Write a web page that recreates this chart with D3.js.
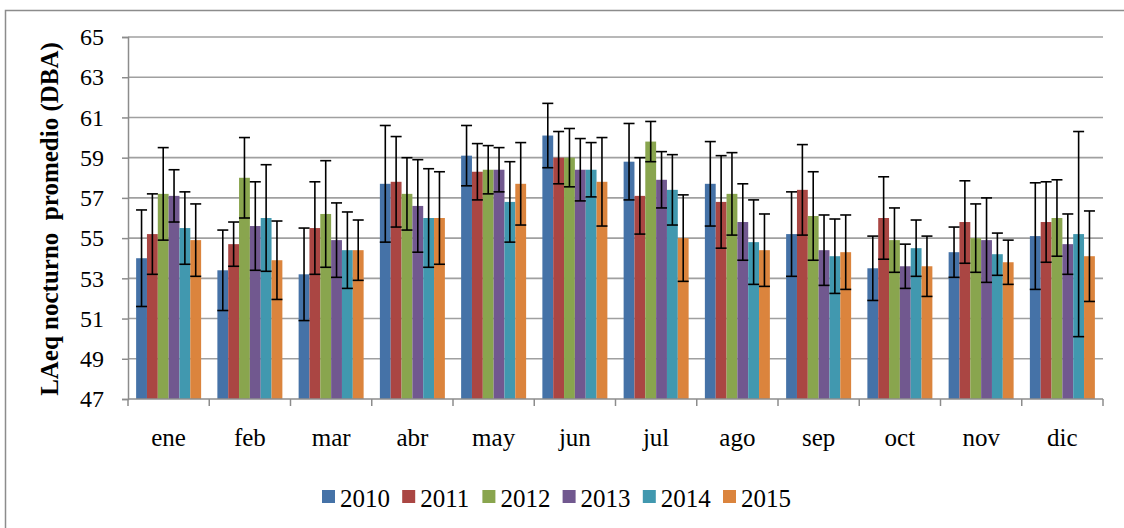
<!DOCTYPE html>
<html>
<head>
<meta charset="utf-8">
<script src="https://cdn.jsdelivr.net/npm/d3@7"></script>
<style>
	body { margin: 0; background: #fff; }
	svg { display: block; }
	svg text { font-family: "Liberation Serif", "Times New Roman", serif; fill: #000; }
</style>
</head>
<body>
<svg id="chart" width="1124" height="528"></svg>
<script>

const months = ["ene", "feb", "mar", "abr", "may", "jun", "jul", "ago", "sep", "oct", "nov", "dic"];
const years = ["2010", "2011", "2012", "2013", "2014", "2015"];
const yTicks = [47, 49, 51, 53, 55, 57, 59, 61, 63, 65];

// mean values per year (one per month)
const v2010 = [54.0, 53.4, 53.2, 57.7, 59.1, 60.1, 58.8, 57.7, 55.2, 53.5, 54.3, 55.1];
const v2011 = [55.2, 54.7, 55.5, 57.8, 58.3, 59.0, 57.1, 56.8, 57.4, 56.0, 55.8, 55.8];
const v2012 = [57.2, 58.0, 56.2, 57.2, 58.4, 59.0, 59.8, 57.2, 56.1, 54.9, 55.0, 56.0];
const v2013 = [57.1, 55.6, 54.9, 56.6, 58.4, 58.4, 57.9, 55.8, 54.4, 53.6, 54.9, 54.7];
const v2014 = [55.5, 56.0, 54.4, 56.0, 56.8, 58.4, 57.4, 54.8, 54.1, 54.5, 54.2, 55.2];
const v2015 = [54.9, 53.9, 54.4, 56.0, 57.7, 57.8, 55.0, 54.4, 54.3, 53.6, 53.8, 54.1];

// error bar half-lengths
const e2010 = [2.4, 2.0, 2.3, 2.9, 1.5, 1.6, 1.9, 2.1, 2.1, 1.6, 1.25, 2.65];
const e2011 = [2.0, 1.1, 2.3, 2.25, 1.4, 1.3, 1.9, 2.3, 2.25, 2.05, 2.05, 2.0];
const e2012 = [2.3, 2.0, 2.65, 1.8, 1.2, 1.45, 1.0, 2.05, 2.2, 1.6, 1.7, 1.9];
const e2013 = [1.3, 2.2, 1.85, 2.3, 1.1, 1.55, 1.4, 1.9, 1.75, 1.1, 2.1, 1.5];
const e2014 = [1.8, 2.65, 1.9, 2.45, 2.0, 1.35, 1.75, 2.1, 1.85, 1.4, 1.05, 5.1];
const e2015 = [1.8, 1.95, 1.5, 2.3, 2.05, 2.2, 2.15, 1.8, 1.85, 1.5, 1.1, 2.25];

const values = [v2010, v2011, v2012, v2013, v2014, v2015];
const errors = [e2010, e2011, e2012, e2013, e2014, e2015];
const colors = ["#4572a7", "#aa4643", "#89a54e", "#71588f", "#4198af", "#db843d"];

const svg = d3.select("#chart");

// outer chart border (runs off the picture on the right and bottom)
svg.append("rect")
	.attr("x", 5.5).attr("y", 10.5)
	.attr("width", 1140).attr("height", 540)
	.style("fill", "none")
	.style("stroke", "#8c8c8c")
	.style("stroke-width", "1.5px");

const plot = { left: 128, right: 1103, top: 37, bottom: 399 };

const y = d3.scaleLinear().domain([47, 65]).range([plot.bottom, plot.top]);

const x0 = d3.scaleBand()
	.domain(months)
	.range([plot.left, plot.right])
	.paddingInner(0.2)
	.paddingOuter(0.1);

const x1 = d3.scaleBand()
	.domain(years)
	.range([0, x0.bandwidth()]);

const color = d3.scaleOrdinal().domain(years).range(colors);

// gridlines
svg.append("g")
	.selectAll("line")
	.data(yTicks.slice(1))
	.enter()
	.append("line")
		.attr("x1", plot.left).attr("x2", plot.right)
		.attr("y1", d => y(d)).attr("y2", d => y(d))
		.style("stroke", "#a0a0a0")
		.style("stroke-width", "1.6px");

// y axis
const yAxis = d3.axisLeft(y)
	.tickValues(yTicks)
	.tickSize(6)
	.tickPadding(18)
	.tickFormat(d3.format("d"));

const yg = svg.append("g")
	.attr("transform", "translate(" + plot.left + ",0)")
	.call(yAxis)
	.attr("font-family", null)
	.attr("font-size", null);
yg.select(".domain").style("stroke", "#8c8c8c").style("stroke-width", "1.5px");
yg.selectAll(".tick line").style("stroke", "#8c8c8c").style("stroke-width", "1.5px");
yg.selectAll(".tick text")
	.style("font-family", "'Liberation Serif', serif")
	.style("font-size", "24px")
	.style("fill", "#000");

// bars
const rows = [];
months.forEach((m, i) => {
	years.forEach((yr, j) => {
		rows.push({ month: m, year: yr, value: values[j][i], err: errors[j][i] });
	});
});

svg.append("g")
	.selectAll("rect")
	.data(rows)
	.enter()
	.append("rect")
		.attr("x", d => x0(d.month) + x1(d.year))
		.attr("y", d => y(d.value))
		.attr("width", x1.bandwidth())
		.attr("height", d => y(47) - y(d.value))
		.style("fill", d => color(d.year));

// x axis (drawn over bar bottoms)
const xg = svg.append("g")
	.attr("transform", "translate(0," + plot.bottom + ")");
xg.append("line")
	.attr("x1", plot.left).attr("x2", plot.right)
	.style("stroke", "#8c8c8c")
	.style("stroke-width", "1.6px");
xg.selectAll("line.tick")
	.data(d3.range(months.length + 1))
	.enter()
	.append("line")
		.attr("class", "tick")
		.attr("x1", i => plot.left + i * x0.step())
		.attr("x2", i => plot.left + i * x0.step())
		.attr("y1", 0).attr("y2", 7)
		.style("stroke", "#8c8c8c")
		.style("stroke-width", "1.5px");
xg.selectAll("text")
	.data(months)
	.enter()
	.append("text")
		.attr("x", d => x0(d) + x0.bandwidth() / 2)
		.attr("y", 47)
		.attr("text-anchor", "middle")
		.style("font-size", "25px")
		.text(d => d);

// error bars
const cap = 5.5;
const eg = svg.append("g")
	.selectAll("g")
	.data(rows)
	.enter()
	.append("g")
		.attr("transform", d => "translate(" + (x0(d.month) + x1(d.year) + x1.bandwidth() / 2) + ",0)")
		.style("stroke", "#000")
		.style("stroke-width", "1.6px");
eg.append("line")
	.attr("y1", d => y(d.value + d.err))
	.attr("y2", d => y(d.value - d.err));
eg.append("line")
	.attr("x1", -cap).attr("x2", cap)
	.attr("y1", d => y(d.value + d.err))
	.attr("y2", d => y(d.value + d.err));
eg.append("line")
	.attr("x1", -cap).attr("x2", cap)
	.attr("y1", d => y(d.value - d.err))
	.attr("y2", d => y(d.value - d.err));

// y axis title
svg.append("text")
	.attr("transform", "translate(58," + ((plot.top + plot.bottom) / 2 + 1) + ") rotate(-90)")
	.attr("text-anchor", "middle")
	.style("font-size", "25px")
	.style("font-weight", "bold")
	.style("white-space", "pre")
	.text("LAeq nocturno  promedio (DBA)");

// legend
const legend = svg.append("g")
	.selectAll("g")
	.data(years)
	.enter()
	.append("g")
		.attr("transform", (d, i) => "translate(" + (322 + i * 80.2) + ",490)");
legend.append("rect")
	.attr("width", 13).attr("height", 13)
	.style("fill", d => color(d));
legend.append("text")
	.attr("x", 18)
	.attr("y", 17)
	.style("font-size", "25px")
	.text(d => d);

</script>
</body>
</html>
